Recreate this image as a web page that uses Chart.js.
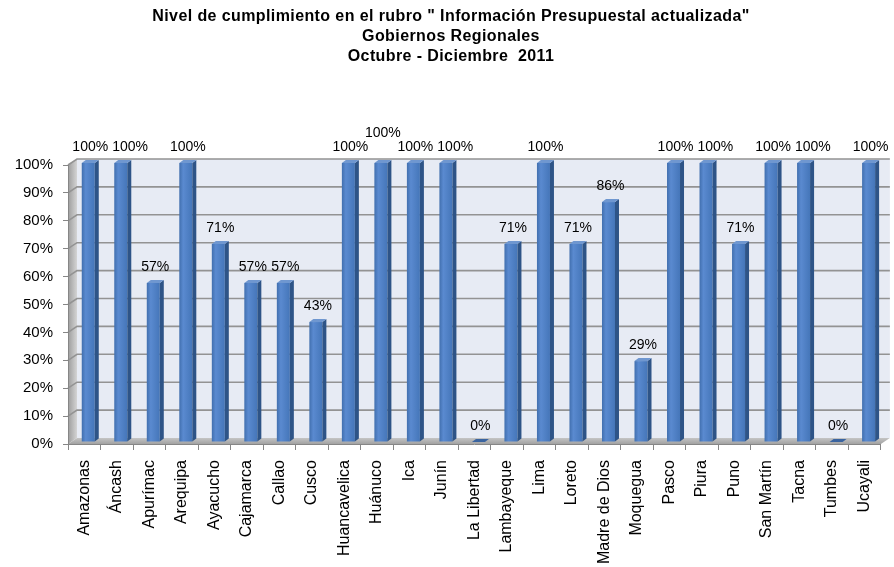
<!DOCTYPE html>
<html>
<head>
<meta charset="utf-8">
<script src="https://cdn.jsdelivr.net/npm/chart.js@4.4.1/dist/chart.umd.min.js"></script>
<style>
  body { margin: 0; background: #fff; }
  #wrap { width: 894px; height: 567px; }
</style>
</head>
<body>
<div id="wrap"><canvas id="chart" width="894" height="567"></canvas></div>
<script>
var titleLines = [
  'Nivel de cumplimiento en el rubro " Información Presupuestal actualizada"',
  'Gobiernos Regionales',
  'Octubre - Diciembre  2011'
];
var regions = ['Amazonas', 'Áncash', 'Apurímac', 'Arequipa', 'Ayacucho', 'Cajamarca', 'Callao', 'Cusco',
  'Huancavelica', 'Huánuco', 'Ica', 'Junín', 'La Libertad', 'Lambayeque', 'Lima', 'Loreto',
  'Madre de Dios', 'Moquegua', 'Pasco', 'Piura', 'Puno', 'San Martín', 'Tacna', 'Tumbes', 'Ucayali'];
var cumplimiento = [100, 100, 57, 100, 71, 57, 57, 43, 100, 100, 100, 100, 0, 71, 100, 71, 86, 29, 100, 100, 71, 100, 100, 0, 100];
var yMax = 100;
var yStep = 10;

// 3d look: depth of the back wall and of each bar
var wall = { dx: 9, dy: 6 };
var depth = { dx: 4, dy: 3 };
var shift = { dx: 4, dy: -2 };

var wallPlugin = {
  id: 'wall3d',
  beforeDraw: function(chart) {
    var ctx = chart.ctx, a = chart.chartArea, ys = chart.scales.y;
    ctx.save();
    // back wall
    ctx.fillStyle = '#e7ebf4';
    ctx.fillRect(a.left + wall.dx, a.top - wall.dy, a.right - a.left, a.bottom - a.top);
    // side wall
    var g = ctx.createLinearGradient(a.left, 0, a.left + wall.dx, 0);
    g.addColorStop(0, '#9c9c9c');
    g.addColorStop(1, '#d4d4d4');
    ctx.fillStyle = g;
    ctx.beginPath();
    ctx.moveTo(a.left, a.top);
    ctx.lineTo(a.left + wall.dx, a.top - wall.dy);
    ctx.lineTo(a.left + wall.dx, a.bottom - wall.dy);
    ctx.lineTo(a.left, a.bottom);
    ctx.closePath();
    ctx.fill();
    // floor
    var f = ctx.createLinearGradient(0, a.bottom - wall.dy, 0, a.bottom);
    f.addColorStop(0, '#c4c4c4');
    f.addColorStop(1, '#a2a2a2');
    ctx.fillStyle = f;
    ctx.beginPath();
    ctx.moveTo(a.left, a.bottom);
    ctx.lineTo(a.left + wall.dx, a.bottom - wall.dy);
    ctx.lineTo(a.right + wall.dx, a.bottom - wall.dy);
    ctx.lineTo(a.right, a.bottom);
    ctx.closePath();
    ctx.fill();
    // gridlines on the walls
    ctx.strokeStyle = '#939393';
    ctx.lineWidth = 1.6;
    for (var v = yStep; v <= yMax; v += yStep) {
      var y = ys.getPixelForValue(v);
      ctx.beginPath();
      ctx.moveTo(a.left, y);
      ctx.lineTo(a.left + wall.dx, y - wall.dy);
      ctx.lineTo(a.right + wall.dx, y - wall.dy);
      ctx.stroke();
    }
    ctx.restore();
  },
  afterDatasetsDraw: function(chart) {
    var ctx = chart.ctx;
    var bars = chart.getDatasetMeta(0).data;
    var placed = [];
    ctx.save();
    for (var i = 0; i < bars.length; i++) {
      var b = bars[i];
      var xl = b.x - b.width / 2 + shift.dx, xr = b.x + b.width / 2 + shift.dx;
      var top = b.y + shift.dy, base = b.base + shift.dy;
      if (top < base) {
        var g = ctx.createLinearGradient(xl, 0, xr, 0);
        g.addColorStop(0, '#416fae');
        g.addColorStop(0.3, '#5a8ad0');
        g.addColorStop(1, '#4576b9');
        ctx.fillStyle = g;
        ctx.fillRect(xl, top, xr - xl, base - top);
        ctx.fillStyle = '#2e5487';
        ctx.beginPath();
        ctx.moveTo(xr, top);
        ctx.lineTo(xr + depth.dx, top - depth.dy);
        ctx.lineTo(xr + depth.dx, base - depth.dy);
        ctx.lineTo(xr, base);
        ctx.closePath();
        ctx.fill();
      }
      ctx.fillStyle = top < base ? '#6f97d0' : '#3a64a0';
      ctx.beginPath();
      ctx.moveTo(xl, top);
      ctx.lineTo(xr, top);
      ctx.lineTo(xr + depth.dx, top - depth.dy);
      ctx.lineTo(xl + depth.dx, top - depth.dy);
      ctx.closePath();
      ctx.fill();
    }
    // value labels, nudged right or up when they would overlap
    ctx.font = '14px "Liberation Sans"';
    ctx.fillStyle = '#000';
    ctx.textAlign = 'center';
    ctx.textBaseline = 'middle';
    var rects = [];
    for (var j = 0; j < bars.length; j++) {
      var t = cumplimiento[j] + '%';
      var w = ctx.measureText(t).width;
      var cx = bars[j].x + shift.dx + depth.dx / 2;
      var cy = bars[j].y + shift.dy - depth.dy - 13;
      rects.push({ x: cx, y: cy, w: w, h: 13, t: t });
    }
    function hit(r, s) {
      return Math.abs(r.x - s.x) < (r.w + s.w) / 2 && Math.abs(r.y - s.y) < (r.h + s.h) / 2;
    }
    for (var k = 0; k < rects.length; k++) {
      var r = rects[k];
      var prev = placed.filter(function(p) { return hit(r, p); })[0];
      if (prev) {
        var over = (r.w + prev.w) / 2 - Math.abs(r.x - prev.x);
        var moved = { x: r.x + over + 4, y: r.y, w: r.w, h: r.h, t: r.t };
        var next = rects[k + 1];
        if (next && hit(moved, next)) {
          r = { x: r.x, y: r.y - 14, w: r.w, h: r.h, t: r.t };
        } else {
          r = moved;
        }
      }
      placed.push(r);
      ctx.fillText(r.t, r.x, r.y);
    }
    ctx.restore();
  },
  afterDraw: function(chart) {
    var ctx = chart.ctx;
    ctx.save();
    ctx.font = 'bold 16px "Liberation Sans"';
    ctx.letterSpacing = '0.4px';
    ctx.fillStyle = '#000';
    ctx.textAlign = 'center';
    ctx.textBaseline = 'middle';
    for (var i = 0; i < titleLines.length; i++) {
      ctx.fillText(titleLines[i], 451, 17 + i * 20);
    }
    ctx.restore();
  }
};

new Chart(document.getElementById('chart'), {
  type: 'bar',
  data: {
    labels: regions,
    datasets: [{
      data: cumplimiento,
      backgroundColor: 'rgba(0,0,0,0)',
      barPercentage: 0.4,
      categoryPercentage: 1
    }]
  },
  options: {
    responsive: false,
    animation: false,
    layout: { padding: { top: 165, right: 10, left: 0, bottom: 0 } },
    plugins: { legend: { display: false }, tooltip: { enabled: false } },
    scales: {
      x: {
        grid: { drawOnChartArea: false, tickLength: 6, color: '#868686', offset: true },
        border: { color: '#868686' },
        ticks: {
          minRotation: 90, maxRotation: 90, autoSkip: false, padding: 10,
          color: '#000', font: { family: 'Liberation Sans', size: 16 }
        },
        afterFit: function(s) { s.height = 123; }
      },
      y: {
        min: 0, max: yMax,
        grid: { drawOnChartArea: false, tickLength: 5, color: '#868686' },
        border: { color: '#868686' },
        ticks: {
          stepSize: yStep, padding: 10, color: '#000',
          font: { family: 'Liberation Sans', size: 15 },
          callback: function(v) { return v + '%'; }
        },
        afterFit: function(s) { s.width = 68; }
      }
    }
  },
  plugins: [wallPlugin]
});
</script>
</body>
</html>
